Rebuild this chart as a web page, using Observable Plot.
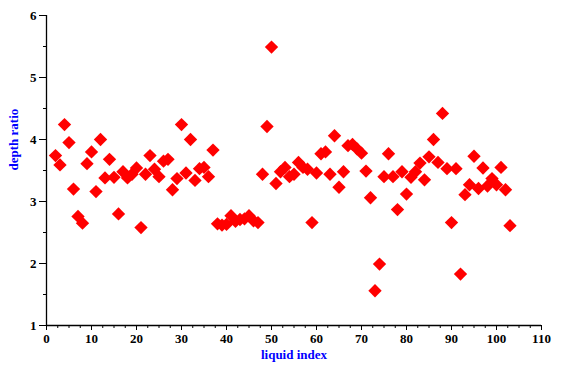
<!DOCTYPE html>
<html>
<head>
<meta charset="utf-8">
<script src="https://cdn.jsdelivr.net/npm/d3@7"></script>
<script src="https://cdn.jsdelivr.net/npm/@observablehq/plot@0.6"></script>
<style>
  html, body { margin: 0; padding: 0; background: #fff; }
  #chart { width: 566px; height: 365px; }
</style>
</head>
<body>
<div id="chart"></div>
<script>
const liquidIndex = [2,3,4,5,6,7,8,9,10,11,12,13,14,15,16,17,18,19,20,21,22,23,24,25,26,27,28,29,30,31,32,33,34,35,36,37,38,39,40,41,42,43,44,45,46,47,48,49,50,51,52,53,54,55,56,57,58,59,60,61,62,63,64,65,66,67,68,69,70,71,72,73,74,75,76,77,78,79,80,81,82,83,84,85,86,87,88,89,90,91,92,93,94,95,96,97,98,99,100,101,102,103];
const depthRatio = [3.74,3.59,4.24,3.95,3.20,2.76,2.65,3.61,3.80,3.16,4.00,3.38,3.68,3.39,2.80,3.48,3.38,3.44,3.54,2.58,3.44,3.74,3.52,3.40,3.65,3.68,3.19,3.37,4.24,3.46,4.00,3.34,3.53,3.55,3.40,3.83,2.64,2.62,2.63,2.77,2.68,2.71,2.72,2.77,2.69,2.66,3.44,4.21,5.49,3.29,3.48,3.55,3.40,3.44,3.63,3.55,3.52,2.66,3.46,3.77,3.80,3.44,4.06,3.23,3.48,3.90,3.92,3.85,3.78,3.49,3.06,1.56,1.99,3.40,3.77,3.40,2.87,3.48,3.12,3.39,3.48,3.62,3.35,3.72,4.00,3.63,4.42,3.53,2.66,3.53,1.83,3.11,3.27,3.73,3.21,3.54,3.25,3.37,3.27,3.55,3.19,2.61];
const xMajorTicks = [0,10,20,30,40,50,60,70,80,90,100,110];
const xMinorTicks = [2.5,5,7.5,12.5,15,17.5,22.5,25,27.5,32.5,35,37.5,42.5,45,47.5,52.5,55,57.5,62.5,65,67.5,72.5,75,77.5,82.5,85,87.5,92.5,95,97.5,102.5,105,107.5];
const yMajorTicks = [1,2,3,4,5,6];
const yMinorTicks = [1.5,2.5,3.5,4.5,5.5];
const xTitle = "liquid index";
const yTitle = "depth ratio";

const data = liquidIndex.map((x, i) => ({x, y: depthRatio[i]}));

const chart = Plot.plot({
  width: 566,
  height: 365,
  marginLeft: 46,
  marginRight: 25,
  marginTop: 15,
  marginBottom: 40,
  style: {fontFamily: "'Liberation Serif', 'DejaVu Serif', serif", fontSize: "13px", fontWeight: "bold", color: "#000", background: "#fff", overflow: "visible"},
  x: {domain: [0, 110], label: null},
  y: {domain: [1, 6], label: null},
  marks: [
    Plot.axisX({ticks: xMinorTicks, tickSize: 3, tickFormat: () => "", stroke: "#000", strokeOpacity: 1}),
    Plot.axisX({ticks: xMajorTicks, tickSize: 5, tickPadding: 3, tickFormat: d => String(d), stroke: "#000", strokeOpacity: 1, fill: "#000", fontWeight: "bold"}),
    Plot.axisY({ticks: yMinorTicks, tickSize: 3, tickFormat: () => "", stroke: "#000", strokeOpacity: 1}),
    Plot.axisY({ticks: yMajorTicks, tickSize: 7, tickPadding: 3, tickFormat: d => String(d), stroke: "#000", strokeOpacity: 1, fill: "#000", fontWeight: "bold"}),
    Plot.ruleY([1], {stroke: "#000", strokeWidth: 1.3}),
    Plot.ruleX([0], {stroke: "#000", strokeWidth: 1.3}),
    Plot.dot(data, {x: "x", y: "y", symbol: "diamond2", r: 6, fill: "#ff0000", stroke: "none"}),
    Plot.text([xTitle], {frameAnchor: "bottom", dy: 33, fill: "#0000ff", fontWeight: "bold", fontSize: 13}),
    Plot.text([yTitle], {frameAnchor: "left", rotate: -90, dx: -33, fill: "#0000ff", fontWeight: "bold", fontSize: 13})
  ]
});
document.getElementById("chart").appendChild(chart);
</script>
</body>
</html>
